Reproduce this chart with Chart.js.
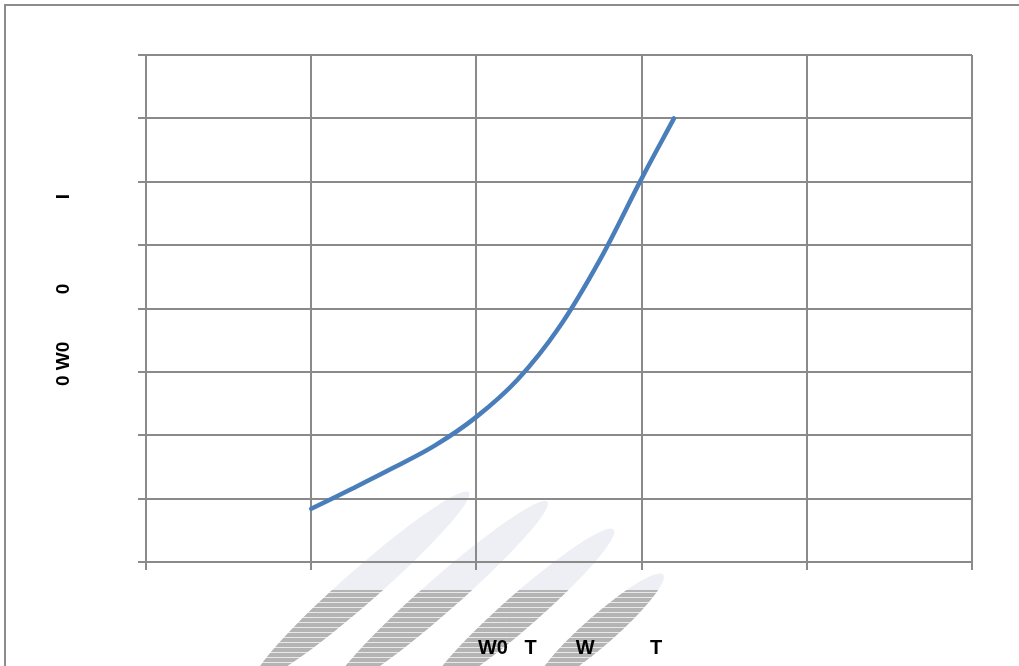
<!DOCTYPE html>
<html>
<head>
<meta charset="utf-8">
<title>Chart</title>
<script src="https://cdn.jsdelivr.net/npm/chart.js@4"></script>
<style>
    html, body { margin: 0; padding: 0; background: #ffffff; overflow: hidden; }
    #chart-wrap { position: relative; width: 1019px; height: 666px; }
</style>
</head>
<body>
<div id="chart-wrap">
    <canvas id="chart-curve"></canvas>
</div>
<script>
// values (x in category units, y in grid units)
const curveX = [1, 1.25, 1.5, 1.75, 2, 2.25, 2.5, 2.75, 3, 3.196];
const curveY = [0.84, 1.16, 1.49, 1.84, 2.29, 2.88, 3.70, 4.78, 6.05, 7.0];
const xRange = [0, 5];
const yRange = [0, 8];
const xTitle = '    W0   T       W          T';
const yTitle = '       0 W0         0                I';

const GRID = '#8a8a8a';
const LINE = '#4a7ebb';
const FONT = "'Liberation Sans', Arial, sans-serif";

// frame + faint logo swooshes behind the grid
const backdrop = {
    id: 'backdrop',
    beforeDraw(chart) {
        const ctx = chart.ctx;
        const swooshes = [
            { x: 362, y: 586, len: 142, w: 17 },
            { x: 440, y: 596, len: 143, w: 17 },
            { x: 522, y: 610, len: 122, w: 17 },
            { x: 600, y: 630, len: 84, w: 15 }
        ];
        const paint = (color) => {
            ctx.fillStyle = color;
            swooshes.forEach(s => {
                ctx.beginPath();
                ctx.ellipse(s.x, s.y, s.len, s.w, -0.72, 0, Math.PI * 2);
                ctx.fill();
            });
        };
        ctx.save();
        paint('#edeff4');
        ctx.beginPath();
        ctx.rect(0, 590, chart.width, chart.height);
        ctx.clip();
        paint('#b4b4b4');
        // scan-line breaks in the grey part
        ctx.strokeStyle = 'rgba(255,255,255,0.7)';
        ctx.lineWidth = 1;
        for (let y = 592.5; y < chart.height; y += 5) {
            ctx.beginPath();
            ctx.moveTo(0, y);
            ctx.lineTo(chart.width, y);
            ctx.stroke();
        }
        ctx.restore();

        ctx.save();
        ctx.strokeStyle = '#8c8c8c';
        ctx.lineWidth = 2;
        ctx.beginPath();
        ctx.moveTo(4, 5);
        ctx.lineTo(chart.width, 5);
        ctx.moveTo(5, 5);
        ctx.lineTo(5, chart.height);
        ctx.stroke();
        ctx.restore();
    }
};

new Chart(document.querySelector('#chart-curve'), {
    type: 'line',
    data: {
        datasets: [{
            data: curveX.map((x, i) => ({ x: x, y: curveY[i] })),
            borderColor: LINE,
            borderWidth: 4.5,
            borderCapStyle: 'round',
            pointRadius: 0,
            tension: 0.35,
            fill: false
        }]
    },
    options: {
        responsive: true,
        maintainAspectRatio: false,
        animation: false,
        layout: {
            padding: { top: 55, right: 47, left: 0, bottom: 0 }
        },
        scales: {
            x: {
                type: 'linear',
                min: xRange[0],
                max: xRange[1],
                ticks: { display: false, stepSize: 1 },
                grid: { color: GRID, lineWidth: 2, tickLength: 8 },
                border: { color: GRID, width: 2 },
                title: {
                    display: true,
                    text: xTitle,
                    color: '#000000',
                    font: { family: FONT, size: 20, weight: 'bold' },
                    padding: { top: 0, bottom: 6 }
                },
                afterFit: (scale) => { scale.height = 104; }
            },
            y: {
                min: yRange[0],
                max: yRange[1],
                ticks: { display: false, stepSize: 1 },
                grid: { color: GRID, lineWidth: 2, tickLength: 8 },
                border: { color: GRID, width: 2 },
                title: {
                    display: true,
                    text: yTitle,
                    color: '#000000',
                    font: { family: FONT, size: 19, weight: 'bold' },
                    padding: { top: 52, bottom: 0 }
                },
                afterFit: (scale) => { scale.width = 146; }
            }
        },
        plugins: {
            legend: { display: false },
            tooltip: { enabled: false }
        }
    },
    plugins: [backdrop]
});
</script>
</body>
</html>
